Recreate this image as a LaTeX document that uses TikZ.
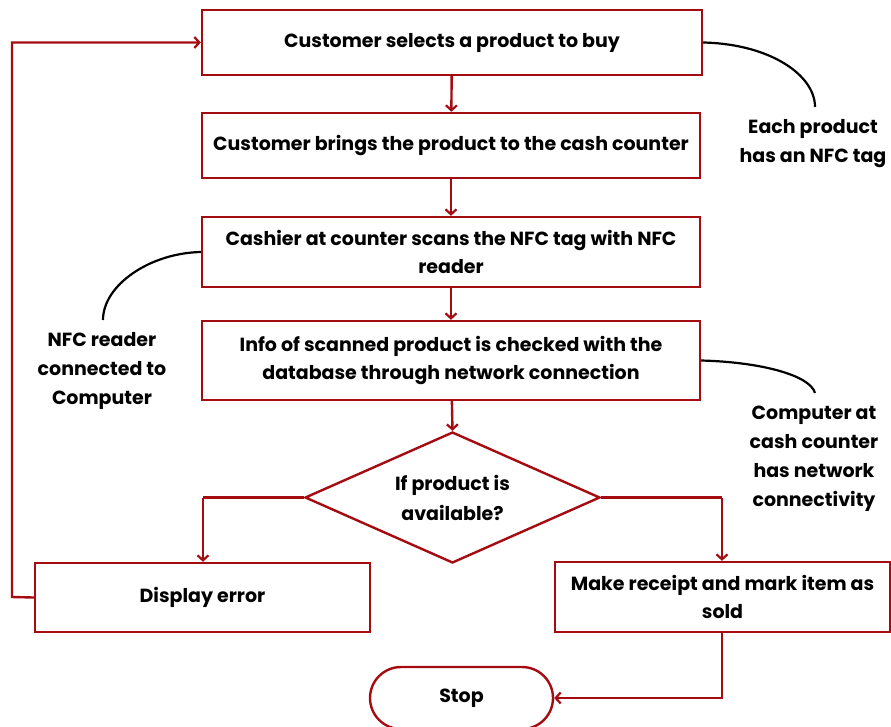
\documentclass[tikz,border=0pt]{standalone}
\usepackage{fontspec}
\setmainfont{Poppins}
\usetikzlibrary{arrows.meta,shapes.geometric}
\definecolor{fred}{RGB}{165,12,18}
\tikzset{
  box/.style={draw=fred,line width=2.4pt,fill=white,align=center,inner sep=0pt},
  flow/.style={draw=fred,line width=2.4pt,-{Straight Barb[length=5pt,width=11pt,line width=2.2pt]}},
  plain/.style={draw=fred,line width=2.4pt},
  callout/.style={draw=black,line width=2.2pt},
  note/.style={align=center,inner sep=0pt,font=\bfseries\fontsize{19}{29}\selectfont},
  every node/.style={font=\bfseries\fontsize{19}{28}\selectfont}
}
\begin{document}
\begin{tikzpicture}[x=1pt,y=-1pt]
\useasboundingbox (0,0) rectangle (891,726);
\node[box,minimum width=500pt,minimum height=65pt] (b1) at (452,42.5) {Customer selects a product to buy};
\node[box,minimum width=498pt,minimum height=65pt] (b2) at (451,145.5) {Customer brings the product to the cash counter};
\node[box,minimum width=498pt,minimum height=70pt] (b3) at (451,252) {Cashier at counter scans the NFC tag with NFC\\reader};
\node[box,minimum width=498pt,minimum height=79pt] (b4) at (451,360.5) {Info of scanned product is checked with the\\database through network connection};
\node[box,diamond,minimum width=295pt,minimum height=131pt] (d) at (452.5,497.5) {};
\node[align=center,inner sep=0pt,font=\bfseries\fontsize{19}{30}\selectfont] (dt) at (d.center) {If product is\\available?};
\node[box,minimum width=335pt,minimum height=69pt] (err) at (202.5,597.5) {Display error};
\node[box,minimum width=335pt,minimum height=70pt] (rec) at (722.5,597) {Make receipt and mark item as\\sold};
\node[box,rounded corners=31pt,minimum width=183pt,minimum height=62pt] (stop) at (461.5,698) {Stop};

\coordinate (lp1) at (12,597);
\coordinate (lp2) at (12,42.5);
\coordinate (dl) at (203,497.5);
\coordinate (dr) at (722,497.5);
\coordinate (rs) at (722,698);

\draw[flow] (b1) -- (b2);
\draw[flow] (b2) -- (b3);
\draw[flow] (b3) -- (b4);
\draw[flow] (b4) -- (d.north);
\draw[plain] (d.west) -- (dl);
\draw[flow] (dl) -- (err.north -| dl);
\draw[plain] (d.east) -- (dr);
\draw[flow] (dr) -- (rec.north -| dr);
\draw[flow] (err.west) -- (lp1) -- (lp2) -- (b1.west);
\draw[flow] (rec.south -| rs) -- (rs) -- (stop.east);

\node[note] (n1) at (813,144) {Each product\\has an NFC tag};
\node[note] (n2) at (102,371) {NFC reader\\connected to\\Computer};
\node[note] (n3) at (814,458.5) {Computer at\\cash counter\\has network\\connectivity};
\coordinate (c1) at (815,107);
\coordinate (c2) at (103,320);
\coordinate (c3) at (815,393);
\draw[callout] (b1.east) .. controls (770,44) and (815,75) .. (c1);
\draw[callout] (b3.west) .. controls (150,253) and (103,285) .. (c2);
\draw[callout] (b4.east) .. controls (760,362) and (810,375) .. (c3);
\end{tikzpicture}
\end{document}
